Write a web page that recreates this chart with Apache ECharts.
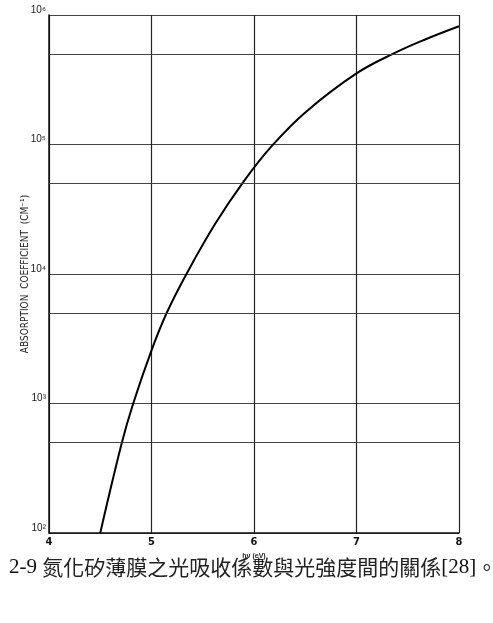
<!DOCTYPE html>
<html>
<head>
<meta charset="utf-8">
<script src="https://cdn.jsdelivr.net/npm/echarts@6/dist/echarts.min.js"></script>
<style>
  html, body { margin: 0; padding: 0; background: #fff; }
  #chart { width: 493px; height: 623px; }
</style>
</head>
<body>
<div id="chart"></div>
<script>
// photon energy (eV) and absorption coefficient (cm^-1)
var energy = [4.50, 4.71, 4.82, 5.00, 5.15, 5.35, 5.62, 5.90, 6.17, 6.50, 7.00, 7.38, 7.67, 8.00];
var absorption = [100, 495, 990, 2570, 5040, 10300, 24300, 51900, 96600, 177000, 354000, 512000, 647000, 818000];

var xTicks = ['4', '5', '6', '7', '8'];
var yTicks = { 100: '10²', 1000: '10³', 10000: '10⁴', 100000: '10⁵', 1000000: '10⁶' };
// extra horizontal grid lines at 5 x 10^n
var halfDecades = [500, 5000, 50000, 500000];

var captionNo = '2-9 ';
var captionText = '氮化矽薄膜之光吸收係數與光強度間的關係';
var captionRef = '[28]';

var points = energy.map(function (e, i) { return [e, absorption[i]]; });

var chart = echarts.init(document.getElementById('chart'));
chart.setOption({
  backgroundColor: '#fff',
  animation: false,
  title: {
    text: '{n|' + captionNo + '}{c|' + captionText + '}{n|' + captionRef + '}{c|。}',
    left: 4,
    top: 552,
    textStyle: {
      fontWeight: 'normal',
      rich: {
        n: { fontFamily: 'Liberation Serif', fontSize: 21, fontWeight: 'normal', color: '#111' },
        c: { fontFamily: 'Noto Sans CJK TC', fontSize: 21, fontWeight: 'normal', color: '#222' }
      }
    }
  },
  grid: { left: 49, right: 34, top: 15, bottom: 90 },
  xAxis: {
    type: 'value',
    min: 4,
    max: 8,
    interval: 1,
    name: 'hν (eV)',
    nameLocation: 'middle',
    nameGap: 12,
    nameTextStyle: { fontSize: 7, fontWeight: 'bold', color: '#222' },
    axisLine: { lineStyle: { color: '#111', width: 1.5 } },
    axisTick: { show: false },
    axisLabel: {
      margin: 4,
      fontSize: 11,
      fontWeight: 'bold',
      color: '#111',
      fontFamily: 'DejaVu Sans Condensed',
      formatter: function (v) { return xTicks[Math.round(v - 4)]; }
    },
    splitLine: { lineStyle: { color: '#222', width: 1.2 } }
  },
  yAxis: {
    type: 'log',
    logBase: 10,
    min: 100,
    max: 1000000,
    name: 'ABSORPTION  COEFFICIENT  (CM⁻¹)',
    nameLocation: 'middle',
    nameGap: 19,
    nameMoveOverlap: false,
    nameTextStyle: { fontSize: 10, color: '#222', fontFamily: 'DejaVu Sans Condensed' },
    axisLine: { show: true, lineStyle: { color: '#111', width: 1.5 } },
    axisTick: { show: false },
    axisLabel: {
      margin: 3,
      fontSize: 10,
      color: '#222',
      verticalAlign: 'bottom',
      formatter: function (v) { return yTicks[Math.round(v)] || ''; }
    },
    splitLine: { lineStyle: { color: '#444', width: 1.2 } }
  },
  series: [{
    type: 'line',
    data: points,
    smooth: 0.4,
    symbol: 'none',
    lineStyle: { color: '#000', width: 2 },
    markLine: {
      silent: true,
      symbol: 'none',
      label: { show: false },
      lineStyle: { type: 'solid', color: '#444', width: 1.2 },
      data: halfDecades.map(function (v) { return { yAxis: v }; })
    }
  }]
});
</script>
</body>
</html>
